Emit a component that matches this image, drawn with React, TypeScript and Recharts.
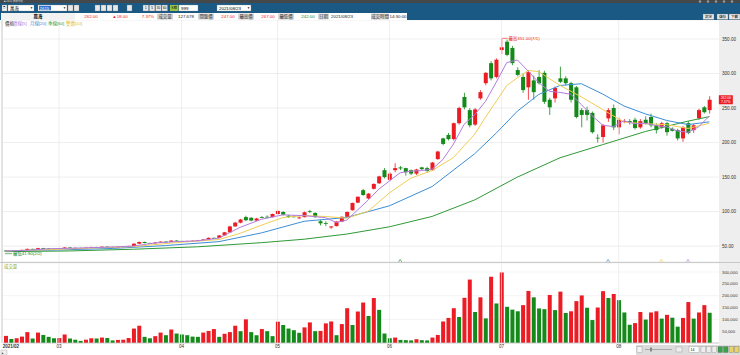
import React from 'react';
import { ComposedChart, Bar, Line, XAxis, YAxis, CartesianGrid, ReferenceLine, ReferenceDot, Cell } from 'recharts';

const RED = '#ec1c24';
const GREEN = '#138a1a';
const C_MA5 = '#b27ce0';
const C_MA10 = '#f0cd55';
const C_MA20 = '#3d8ed6';
const C_MA60 = '#2f9a36';
const FONT = "'Liberation Sans', 'Noto Sans CJK TC', sans-serif";

// ---- candles (one per trading day, 2021/02/01 .. 2021/08/23) ----
const opens = [43.5,43,42.5,43.6,44.5,46,45.3,47,46.4,46.2,
46,46.8,48,47.5,47.3,47.2,47.8,48.6,48.3,49.2,
48.8,48.5,49,49.5,50.2,53.5,56,54.5,54,55.2,
56.5,56,58,57.2,57,57.4,57.8,58.7,59.6,62,
62,65.5,70,78.5,84,92,91,87,92,92.5,
92,96.5,99.5,94,93.5,91,92,100.5,98,86,
83.5,77,79,85.5,92.5,102,113,131,119,133,
141,160,146,160,164,163,160,155,164,163,
160,176,206,211,205,228,266,247,226,264,
286,315,295,334,346,337,305,295,280,290,
295,301,262,264,293,293,286,280,247,247,
243,207,208,235,250,222,231,231,233,222,
233,237,225,222,228,220,218,206,228,218,
235,251,247];
const highs = [44.5,43.5,44,45,46.5,46.3,47.5,47.5,47,46.8,
47,48.5,48.3,48,47.8,48,49,49,49.5,49.5,
49.2,49.2,49.8,50.5,54,56.5,56.5,55,55.5,57,
57,58.5,58.5,57.8,57.8,58,59,60,62.5,62.5,
66,70.5,79.5,85,89.5,94,92,91,93.5,94.5,
97,101.5,100.5,95,95,93,100,102.5,99,88,
86,79,86,93,100,113,122,133,127,141,
152,163,157,170,166,163.5,161,162,165,165,
172,188,207,214,229,252,272,250,250,276,
302,318,322,351,349,340,309,300,305,297,
305,304,265,281,310,296,288,282,250,252,
245,212,227,250,255,236,234,234,236,234,
238,242,228,230,230,222,220,224,231,227,
249,253,267];
const lows = [42.5,41.9,42.3,43.2,44,45,45,46,45.8,45.5,
45.8,46.5,47.2,47,46.8,47,47.5,48,48,48.5,
48.2,48.3,48.8,49.2,50,53,54,53.5,53.8,55,
55.5,55.8,56.8,56.5,56.5,57,57.5,58.5,59.5,61,
61.5,65,69.5,78,83,86,86,86.5,90.5,91.5,
91.5,96,94.5,91,91,89,91.5,98,91,80,
79,75,78.5,85,92,101.5,112,123,118,132,
140,148,144,157,160,152,153,153,160,156,
159,175,196,203,203,226,248,222,224,262,
283,290,293,328,325,312,296,272,262,262,
284,256,240,258,286,283,258,235,222,232,
213,200,200,230,218,212,228,226,219,220,
226,222,213,220,210,216,203,201,212,214,
233,242,242];
const closes = [43,42.5,43.6,44.5,46,45.3,47,46.4,46.2,46,
46.8,48,47.5,47.3,47.2,47.8,48.6,48.3,49.2,48.8,
48.5,49,49.5,50.2,53.5,56,54.5,54,55.2,56.5,
56,58,57.2,57,57.4,57.8,58.7,59.6,62,61.5,
65.5,70,78.5,84,88.5,87.5,87,90,91.5,92,
96.5,101,95.5,92.5,92,91.5,99,99.5,92,83,
82.5,78.5,85.5,92.5,99.5,112.5,121.5,124,126,140,
151,150,155,163,162.5,157,155,161,161.5,159,
171,187,198,205,228,250,251,225,248,273,
301,293,320,338,327,315,298,276,302,273,
286,259,251,279,288,286,262,237,240,240,
215,206,225,247,222,233,231,229,221,231,
228,225,218,228,215,217,206,222,214,225,
247,244,262];
const volumes = [30000,17000,20000,27000,46000,19000,44000,34000,26000,20000,
21000,36000,19000,14000,9000,14000,20000,19000,23000,21000,
11000,13000,14000,21000,61000,73000,26000,20000,29000,44000,
33000,57000,40000,36000,33000,27000,26000,44000,51000,59000,
26000,39000,46000,73000,50000,100000,46000,33000,59000,50000,
29000,90000,76000,61000,54000,43000,66000,87000,50000,51000,
83000,91000,33000,80000,147000,76000,133000,171000,114000,190000,
140000,40000,20000,23000,13000,12000,11000,16000,12000,11000,
23000,34000,91000,106000,147000,110000,191000,268000,131000,193000,
104000,280000,167000,298000,153000,141000,134000,160000,220000,193000,
146000,143000,203000,139000,217000,127000,134000,177000,201000,149000,
97000,150000,219000,190000,207000,181000,129000,77000,84000,131000,
99000,129000,134000,103000,119000,107000,69000,106000,173000,103000,
129000,160000,127678];

// ---- moving averages read at sample days ----
const ma5Idx = [0,4,8,12,16,20,24,28,32,36,40,44,48,52,56,60,62,64,66,68,70,72,74,76,78,80,82,84,86,88,90,92,94,96,98,100,102,104,106,108,110,112,114,116,118,120,122,124,126,128,130,132];
const ma5Val = [43,43.9,46.2,46.9,47.7,48.7,50.1,54.6,56.6,57.6,61.5,77.3,88.9,95.3,94.1,91.2,84.3,87.7,102.3,116.7,132.5,144.4,156.3,158.5,159.4,161.5,175.3,197.8,226.4,240.4,259.6,287,315.8,319.6,303.6,287,274.2,272.6,270,255,238.8,225.2,223,231.6,227.2,228,224.6,222.8,216.8,214.8,222.8,238.4];
const ma10Idx = [0,8,16,24,32,40,44,48,52,56,60,64,68,72,76,80,84,88,90,92,94,96,98,100,102,104,108,112,116,120,124,128,132];
const ma10Val = [43,44.8,47.2,49.3,55.1,59.5,68.6,80.4,91.4,94.2,92.9,90.4,100.6,127.2,148.4,159.5,178.3,212.2,236.6,259.4,282.6,293.8,304.3,302.8,292.5,282.7,266.1,247.8,229.6,227.3,225.9,220.4,228];
const ma20Idx = [0,10,20,30,40,48,56,64,72,80,88,92,96,100,104,108,112,116,120,124,128,132];
const ma20Val = [43,44.5,46.6,50.8,56.5,69.2,86,91.5,108.4,136.3,183.9,213.5,245.5,269.7,282.7,285.2,270.2,252.9,241.5,232,226,230];
const ma60Idx = [0,12,24,36,48,56,64,72,80,88,96,104,112,120,128,132];
const ma60Val = [42,43,45.5,49,55,60,67.5,78,93,117,150,178,197,216,231,237.5];

// ---- axes / labels ----
const monthIdx = [0, 10, 33, 51, 72, 93, 115];
const monthLabels = ['2021/02', '03', '04', '05', '06', '07', '08'];
const priceTicks = [50, 100, 150, 200, 250, 300, 350];
const volTicks = [50000, 100000, 150000, 200000, 250000, 300000];
const crossMarks = [
  { i: 74, color: C_MA60 },
  { i: 113, color: C_MA20 },
  { i: 123, color: C_MA10 },
  { i: 128, color: C_MA5 },
];

const rows: any[] = closes.map((c, i) => ({
  i,
  o: opens[i],
  h: highs[i],
  l: lows[i],
  c,
  range: [lows[i], highs[i]],
  v: volumes[i],
  volUp: i === 0 || volumes[i] >= volumes[i - 1],
  ma5: null,
  ma10: null,
  ma20: null,
  ma60: null,
}));
ma5Idx.forEach((k, j) => { rows[k].ma5 = ma5Val[j]; });
ma10Idx.forEach((k, j) => { rows[k].ma10 = ma10Val[j]; });
ma20Idx.forEach((k, j) => { rows[k].ma20 = ma20Val[j]; });
ma60Idx.forEach((k, j) => { rows[k].ma60 = ma60Val[j]; });

const renderCandle = (props: any) => {
  const { x, y, width, height, payload } = props;
  if (x == null || y == null || !payload) return <g />;
  const { o, h, l, c } = payload;
  const top = Math.min(y, y + height);
  const hh = Math.abs(height);
  const k = h > l ? hh / (h - l) : 0;
  const py = (v: number) => top + (h - v) * k;
  const color = c >= o ? RED : GREEN;
  const bTop = py(Math.max(o, c));
  const bBot = py(Math.min(o, c));
  const mid = x + width / 2;
  return (
    <g>
      <line x1={mid} x2={mid} y1={top} y2={top + hh} stroke={color} strokeWidth={0.8} />
      <rect x={x} y={bTop} width={width} height={Math.max(bBot - bTop, 0.8)} fill={color} />
    </g>
  );
};

const MonthTick = (props: any) => {
  const { x, y, payload } = props;
  const k = monthIdx.indexOf(payload.value);
  if (k < 0) return <g />;
  const first = k === 0;
  return (
    <text x={first ? x - 3 : x} y={y + 5.3} fontSize={4.5} fontFamily={FONT} fill="#333"
      fontWeight={first ? 700 : 400} textAnchor={first ? 'start' : 'middle'}>
      {monthLabels[k]}
    </text>
  );
};

const T = (p: any) => (
  <text fontFamily={FONT} fontSize={4.4} dominantBaseline="central" {...p} />
);

const Header = () => {
  const cells = [
    { x: 157, w: 16, t: '成交量' },
    { x: 198, w: 16, t: '開盤價' },
    { x: 238, w: 16, t: '最高價' },
    { x: 278, w: 16, t: '最低價' },
    { x: 318, w: 11, t: '日期' },
    { x: 371, w: 18, t: '成交時間' },
  ];
  const vals = [
    { x: 91, t: '262.00', c: RED },
    { x: 120, t: '▲18.00', c: RED },
    { x: 148, t: '7.37%', c: RED },
    { x: 186, t: '127,678', c: '#222' },
    { x: 228, t: '247.00', c: RED },
    { x: 268, t: '267.00', c: RED },
    { x: 308, t: '242.00', c: GREEN },
    { x: 342, t: '2021/08/23', c: '#222' },
    { x: 398, t: '14:30:00', c: '#222' },
  ];
  return (
    <svg width={740} height={20} style={{ position: 'absolute', left: 0, top: 0 }}>
      <rect x={0} y={0} width={740} height={3} fill="#45484b" />
      <T x={4} y={1.5} fontSize={2.6} fill="#ddd">■ 2615 技術分析</T>
      {[700, 708, 716, 724, 732].map((cx) => (
        <circle key={cx} cx={cx} cy={1.5} r={1.2} fill="#9a9a9a" />
      ))}
      <rect x={0} y={3} width={740} height={17} fill="#1b5985" />
      {/* toolbar */}
      <rect x={2} y={5} width={5} height={6} fill="#f4f4f4" stroke="#888" strokeWidth={0.3} />
      <T x={3} y={8} fontSize={3.5}>▷</T>
      <rect x={8} y={5} width={26} height={6} fill="#fff" stroke="#888" strokeWidth={0.3} />
      <T x={10} y={8}>萬海</T>
      <T x={30} y={8} fontSize={3}>▼</T>
      <rect x={38} y={5} width={29} height={6} fill="#fff" stroke="#888" strokeWidth={0.3} />
      <rect x={39} y={5.8} width={12} height={4.4} fill="#2f6fd0" />
      <T x={39.5} y={8} fill="#fff">2615</T>
      <T x={63} y={8} fontSize={3}>▼</T>
      {[68, 74].map((x) => (<rect key={x} x={x} y={5} width={5} height={6} fill="#e8e8e8" stroke="#777" strokeWidth={0.3} />))}
      {[95, 101, 107, 113].map((x) => (<rect key={x} x={x} y={5} width={5} height={6} fill="#e8e8e8" stroke="#777" strokeWidth={0.3} />))}
      <rect x={127} y={5} width={5} height={6} fill="#e8e8e8" stroke="#777" strokeWidth={0.3} />
      {['1', '5', '30', '60'].map((t, k) => (
        <g key={t}>
          <rect x={143 + k * 6.3} y={5} width={5.6} height={6} fill="#e8e8e8" stroke="#777" strokeWidth={0.3} />
          <T x={145.8 + k * 6.3} y={8} fontSize={3} textAnchor="middle">{t}</T>
        </g>
      ))}
      <rect x={170} y={5} width={8.5} height={6} fill="#9cc443" />
      <T x={174.2} y={8} fontSize={3.2} textAnchor="middle">K線</T>
      <rect x={179} y={5} width={19} height={6} fill="#fff" stroke="#888" strokeWidth={0.3} />
      <T x={181} y={8}>999</T>
      <rect x={217} y={5} width={34} height={6} fill="#fff" stroke="#888" strokeWidth={0.3} />
      <T x={219} y={8}>2021/08/23</T>
      <T x={247} y={8} fontSize={3}>▼</T>
      {/* info row */}
      <rect x={1} y={13} width={406} height={7} fill="#fff" />
      <rect x={1} y={13} width={74} height={7} fill="#f2f2f2" />
      <T x={38} y={16.5} textAnchor="middle" fontWeight={700}>萬海</T>
      {cells.map((c) => (
        <g key={c.t}>
          <rect x={c.x} y={13.5} width={c.w} height={6} fill="#d6d6d6" />
          <T x={c.x + c.w / 2} y={16.5} textAnchor="middle" fill="#333">{c.t}</T>
        </g>
      ))}
      {vals.map((v) => (
        <T key={v.t} x={v.x} y={16.5} textAnchor="middle" fill={v.c}>{v.t}</T>
      ))}
      {[{ x: 703, t: '設定' }, { x: 717, t: '儲存' }, { x: 729, t: '下載' }].map((b) => (
        <g key={b.t}>
          <rect x={b.x} y={14} width={11} height={5.5} fill="#e9e9e9" stroke="#666" strokeWidth={0.3} />
          <T x={b.x + 5.5} y={16.8} textAnchor="middle" fontSize={3.6}>{b.t}</T>
        </g>
      ))}
    </svg>
  );
};

const Overlay = () => (
  <svg width={740} height={355} style={{ position: 'absolute', left: 0, top: 0, pointerEvents: 'none' }}>
    <line x1={2} x2={2} y1={20} y2={343} stroke="#b8b8b8" strokeWidth={0.8} />
    <line x1={0} x2={740} y1={262.5} y2={262.5} stroke="#bdbdbd" strokeWidth={0.8} />
    <T x={5} y={23.5} fill="#222">價格</T>
    <T x={13} y={23.5} fill={C_MA5}>週線[5]</T>
    <T x={30} y={23.5} fill={C_MA20}>月線[20]</T>
    <T x={48} y={23.5} fill={C_MA60}>季線[60]</T>
    <T x={66} y={23.5} fill="#e0b830">雙週[10]</T>
    <T x={4} y={266} fill="#8aa82a">成交量</T>
    {/* bottom controls */}
    <rect x={1} y={350} width={6} height={5} fill="#f0f0f0" stroke="#888" strokeWidth={0.3} />
    <T x={2.4} y={352.5} fontSize={3}>▸</T>
    <rect x={636} y={345} width={104} height={10} fill="#dcdcdc" />
    <rect x={637} y={346.5} width={5} height={6} fill="#f4f4f4" stroke="#777" strokeWidth={0.3} />
    <line x1={645} x2={672} y1={349.5} y2={349.5} stroke="#777" strokeWidth={0.5} />
    <rect x={650} y={347.5} width={2} height={4} fill="#888" />
    <rect x={676} y={347} width={6} height={5} fill="#eee" stroke="#777" strokeWidth={0.3} />
    <rect x={689} y={346.5} width={10} height={6} fill="#fff" stroke="#777" strokeWidth={0.3} />
    <T x={690.5} y={349.5} fontSize={3.5}>14</T>
    {[701, 706.5, 712].map((x) => (<rect key={x} x={x} y={346.5} width={4.5} height={6} fill="#eee" stroke="#777" strokeWidth={0.3} />))}
    {[718, 723.5].map((x) => (<rect key={x} x={x} y={346.5} width={4.5} height={6} fill="#3aa34a" stroke="#555" strokeWidth={0.3} />))}
    {[729, 734.5].map((x) => (<rect key={x} x={x} y={346.5} width={4.5} height={6} fill="#e8d36a" stroke="#555" strokeWidth={0.3} />))}
  </svg>
);

export default function App() {
  return (
    <div style={{ position: 'fixed', left: 0, top: 0, width: 740, height: 355, background: '#fff', overflow: 'hidden', fontFamily: FONT }}>
      <div style={{ position: 'absolute', left: 719, top: 20, width: 21, height: 325, background: '#eeeeee' }} />
      <div style={{ position: 'absolute', left: 0, top: 20 }}>
        <ComposedChart width={740} height={242} data={rows} margin={{ top: 0, right: 0, bottom: 0, left: 3 }}>
          <CartesianGrid vertical={false} stroke="#e6e6e6" strokeWidth={0.7} />
          <XAxis dataKey="i" type="category" hide padding={{ left: 0, right: 7 }} />
          <YAxis orientation="right" width={21} domain={[27, 377.5]} ticks={priceTicks}
            tickFormatter={(v: number) => v.toFixed(2)} allowDataOverflow
            tick={{ fontSize: 4.6, fill: '#333', fontFamily: FONT }} tickLine={false} axisLine={false}
            tickSize={0} tickMargin={3} />
          {monthIdx.slice(1).map((m) => (
            <ReferenceLine key={m} x={m} stroke="#e6e6e6" strokeWidth={0.7} />
          ))}
          <Bar dataKey="range" barSize={4} shape={renderCandle} isAnimationActive={false} />
          <Line type="linear" dataKey="ma60" stroke={C_MA60} strokeWidth={1} dot={false} connectNulls isAnimationActive={false} />
          <Line type="linear" dataKey="ma20" stroke={C_MA20} strokeWidth={1} dot={false} connectNulls isAnimationActive={false} />
          <Line type="linear" dataKey="ma10" stroke={C_MA10} strokeWidth={1} dot={false} connectNulls isAnimationActive={false} />
          <Line type="linear" dataKey="ma5" stroke={C_MA5} strokeWidth={1} dot={false} connectNulls isAnimationActive={false} />
          <ReferenceDot x={93} y={351} r={0} ifOverflow="visible"
            shape={(p: any) => (
              <g>
                <line x1={p.cx + 1} x2={p.cx + 6} y1={p.cy} y2={p.cy} stroke={RED} strokeWidth={0.6} />
                <text x={p.cx + 7} y={p.cy} dominantBaseline="central" fontSize={4.4} fontFamily={FONT} fill={RED}>最高351.00(7/1)</text>
              </g>
            )} />
          <ReferenceDot x={1} y={41.9} r={0} ifOverflow="visible"
            shape={(p: any) => (
              <g>
                <line x1={p.cx - 6} x2={p.cx + 1} y1={p.cy + 2} y2={p.cy + 2} stroke={GREEN} strokeWidth={0.6} />
                <text x={p.cx + 2} y={p.cy + 2} dominantBaseline="central" fontSize={4.4} fontFamily={FONT} fill={GREEN}>最低41.90(2/2)</text>
              </g>
            )} />
          {crossMarks.map((m) => (
            <ReferenceDot key={m.i} x={m.i} y={29} r={0} ifOverflow="visible"
              shape={(p: any) => (
                <polyline points={`${p.cx - 1.6},${p.cy + 1.3} ${p.cx},${p.cy - 1.2} ${p.cx + 1.6},${p.cy + 1.3}`}
                  fill="none" stroke={m.color} strokeWidth={0.7} />
              )} />
          ))}
          <ReferenceDot x={132} y={262} r={0} ifOverflow="visible"
            shape={(p: any) => (
              <g>
                <rect x={p.cx + 9.5} y={p.cy - 4.5} width={14} height={9} fill={RED} />
                <text x={p.cx + 16.5} y={p.cy - 2.1} textAnchor="middle" dominantBaseline="central" fontSize={3.4} fontFamily={FONT} fill="#fff">262.00</text>
                <text x={p.cx + 16.5} y={p.cy + 2.2} textAnchor="middle" dominantBaseline="central" fontSize={3.4} fontFamily={FONT} fill="#fff">7.37%</text>
              </g>
            )} />
        </ComposedChart>
      </div>
      <div style={{ position: 'absolute', left: 0, top: 263 }}>
        <ComposedChart width={740} height={92} data={rows} margin={{ top: 0, right: 0, bottom: 0, left: 3 }}>
          <CartesianGrid vertical={false} stroke="#efefef" strokeWidth={0.7} />
          <XAxis dataKey="i" type="category" padding={{ left: 0, right: 7 }} interval={0} height={12}
            tick={<MonthTick />} tickLine={false} tickSize={0} tickMargin={0}
            axisLine={{ stroke: '#c4c4c4', strokeWidth: 0.8 }} />
          <YAxis orientation="right" width={21} domain={[0, 338000]} ticks={volTicks} allowDataOverflow
            tickFormatter={(v: number) => v.toLocaleString('en-US')}
            tick={{ fontSize: 4.3, fill: '#333', fontFamily: FONT }} tickLine={false} axisLine={false}
            tickSize={0} tickMargin={3} />
          {monthIdx.slice(1).map((m) => (
            <ReferenceLine key={m} x={m} stroke="#e6e6e6" strokeWidth={0.7} />
          ))}
          <Bar dataKey="v" barSize={4} isAnimationActive={false}>
            {rows.map((r) => (
              <Cell key={r.i} fill={r.volUp ? RED : GREEN} />
            ))}
          </Bar>
        </ComposedChart>
      </div>
      <Header />
      <Overlay />
    </div>
  );
}
